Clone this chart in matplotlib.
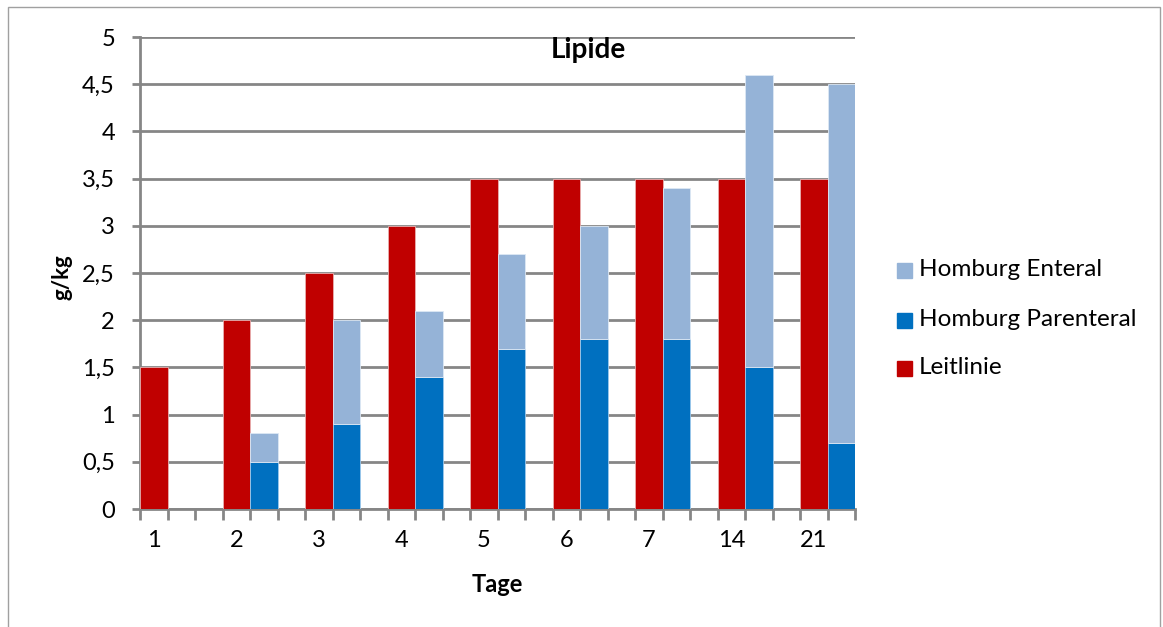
import numpy as np
import matplotlib
matplotlib.use("Agg")
from matplotlib import pyplot as plt
from matplotlib.patches import Rectangle

# Daten
tage = ["1", "2", "3", "4", "5", "6", "7", "14", "21"]
leitlinie = [1.5, 2.0, 2.5, 3.0, 3.5, 3.5, 3.5, 3.5, 3.5]
parenteral = [0.0, 0.5, 0.9, 1.4, 1.7, 1.8, 1.8, 1.5, 0.7]
enteral = [0.0, 0.3, 1.1, 0.7, 1.0, 1.2, 1.6, 3.1, 3.8]
y_ticks = [0, 0.5, 1, 1.5, 2, 2.5, 3, 3.5, 4, 4.5, 5]

plt.rcParams['font.family'] = ['Lato', 'DejaVu Sans']

rot = "#C00000"
blau = "#0070C0"
hellblau = "#95B3D7"
grau = "#868686"

fig = plt.figure(figsize=(11.63, 6.27), dpi=100)
ax = fig.add_axes([140/1163, 1 - 509/627, 715/1163, 472/627])

# 3 Slots pro Tag: Leitlinie, Homburg, Lücke
pos = np.arange(len(tage)) * 3
ax.bar(pos, leitlinie, width=1.0, color=rot, edgecolor="#e8b0b0", linewidth=0.6, zorder=3)
ax.bar(pos + 1, parenteral, width=1.0, color=blau, edgecolor="#9cc8ec", linewidth=0.6, zorder=3)
ax.bar(pos + 1, enteral, bottom=parenteral, width=1.0, color=hellblau,
       edgecolor="#dde8f4", linewidth=0.6, zorder=3)

ax.set_xlim(-0.5, 25.5)
ax.set_ylim(0, 5)
ax.set_yticks(y_ticks)
ax.set_yticklabels([("%g" % v).replace(".", ",") for v in y_ticks], fontsize=17)
ax.yaxis.grid(True, color=grau, linewidth=2, zorder=0)
ax.tick_params(axis="y", length=6, width=2, color=grau, pad=12)

# Striche an den Slot-Grenzen, Beschriftung mittig unter dem roten Balken
ax.set_xticks(np.arange(-0.5, 26, 1.0))
ax.set_xticklabels([])
ax.tick_params(axis="x", length=8, width=2, color=grau)
for p, t in zip(pos, tage):
    ax.text(p, -0.33, t, ha="center", va="center", fontsize=17)

for s in ["top", "right"]:
    ax.spines[s].set_visible(False)
for s in ["left", "bottom"]:
    ax.spines[s].set_color(grau)
    ax.spines[s].set_linewidth(2)

ax.text(0.627, 0.972, "Lipide", transform=ax.transAxes, ha="center", va="center",
        fontsize=20, fontweight="bold")
fig.text(497/1163, 1 - 584/627, "Tage", ha="center", va="center", fontsize=17, fontweight="bold")
fig.text(62/1163, 1 - 277/627, "g/kg", ha="center", va="center", rotation=90,
         fontsize=16, fontweight="bold")

# Legende
legende = [("Homburg Enteral", hellblau, 270), ("Homburg Parenteral", blau, 320), ("Leitlinie", rot, 368)]
for name, farbe, y in legende:
    fig.patches.append(Rectangle((897/1163, 1 - (y + 8)/627), 15/1163, 15/627,
                                 transform=fig.transFigure, color=farbe))
    fig.text(919/1163, 1 - y/627, name, ha="left", va="center", fontsize=17.5)

# Rahmen
fig.patches.append(Rectangle((8/1163, -0.02), 1152/1163, 1 - 7/627 + 0.02, transform=fig.transFigure,
                             fill=False, edgecolor="#a0a0a0", linewidth=1))

fig.savefig("out.png", dpi=100)
